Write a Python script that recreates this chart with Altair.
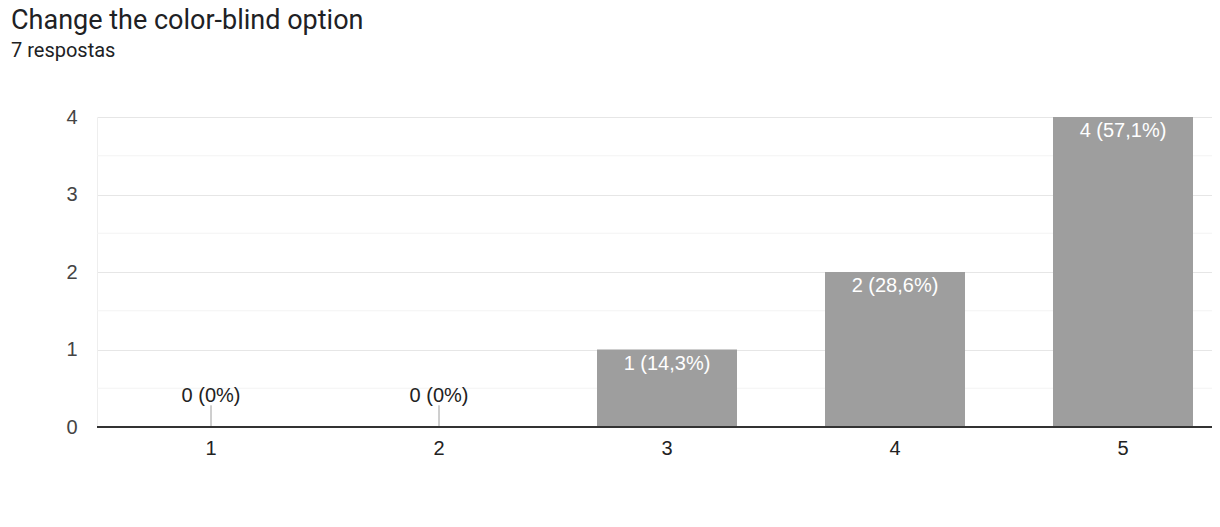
import altair as alt
import pandas as pd

categories = ["1", "2", "3", "4", "5"]
counts = [0, 0, 1, 2, 4]
total = 7
minor_grid = [0.5, 1.5, 2.5, 3.5]
stub_height = 0.28

def pct_label(c):
    p = round(c / total * 100, 1)
    if p == 0:
        return f"{c} (0%)"
    return f"{c} ({str(p).replace('.', ',')}%)"

df = pd.DataFrame({
    "cat": categories,
    "count": counts,
    "label": [pct_label(c) for c in counts],
    "stub": [stub_height if c == 0 else 0 for c in counts],
})
grid_df = pd.DataFrame({"g": minor_grid})

TFONT = "Roboto"
FONT = "Liberation Sans"

xscale = alt.Scale(paddingInner=0.386, paddingOuter=0.193, range=[0, 1140])
x = alt.X("cat:N", sort=categories, scale=xscale,
          axis=alt.Axis(title=None, labelAngle=0, labelFontSize=20, labelColor="#222",
                        labelFont=FONT, ticks=False, domain=False, grid=False,
                        labelPadding=11))
y = alt.Y("count:Q", scale=alt.Scale(domain=[0, 4], nice=False),
          axis=alt.Axis(title=None, values=[0, 1, 2, 3, 4], format="d", labelFontSize=20,
                        labelColor="#444", labelFont=FONT, ticks=False, domain=True,
                        domainColor="#eeeeee", grid=True, gridColor="#e6e6e6",
                        labelPadding=20))

minor = alt.Chart(grid_df).mark_rule(color="#f3f3f3", strokeWidth=1).encode(y=alt.Y("g:Q"))

bars = alt.Chart(df).mark_bar(color="#9e9e9e").encode(x=x, y=y)

stubs = alt.Chart(df).transform_filter("datum.count == 0").mark_rule(
    color="#9e9e9e", strokeWidth=1).encode(
    x=alt.X("cat:N", sort=categories), y=alt.Y("count:Q"), y2="stub:Q")

zero_labels = alt.Chart(df).transform_filter("datum.count == 0").mark_text(
    font=FONT, fontSize=20, color="#222", baseline="alphabetic", dy=-3).encode(
    x=alt.X("cat:N", sort=categories), y=alt.Y("stub:Q"), text="label:N")

in_labels = alt.Chart(df).transform_filter("datum.count > 0").mark_text(
    font=FONT, fontSize=20, color="#ffffff", baseline="top", dy=4).encode(
    x=alt.X("cat:N", sort=categories), y=alt.Y("count:Q"), text="label:N")

baseline = alt.Chart(df).mark_rule(color="#333333", strokeWidth=2).encode(
    y=alt.datum(0))

chart = alt.layer(minor, bars, stubs, zero_labels, in_labels, baseline).properties(
    width=1115, height=310,
    autosize=alt.AutoSizeParams(type="none"),
    padding={"left": 89, "top": 109, "right": 0, "bottom": 60},
    title=alt.TitleParams(
        text="Change the color-blind option",
        subtitle="7 respostas",
        anchor="start", frame="group", dx=-86, offset=45,
        font=TFONT, fontSize=27, fontWeight="normal", color="#202124",
        subtitleFont=TFONT, subtitleFontSize=20, subtitleColor="#202124",
        subtitlePadding=6,
    ),
).configure_view(stroke=None)

chart.save("out.html", embed_options={"renderer": "svg", "actions": False})
